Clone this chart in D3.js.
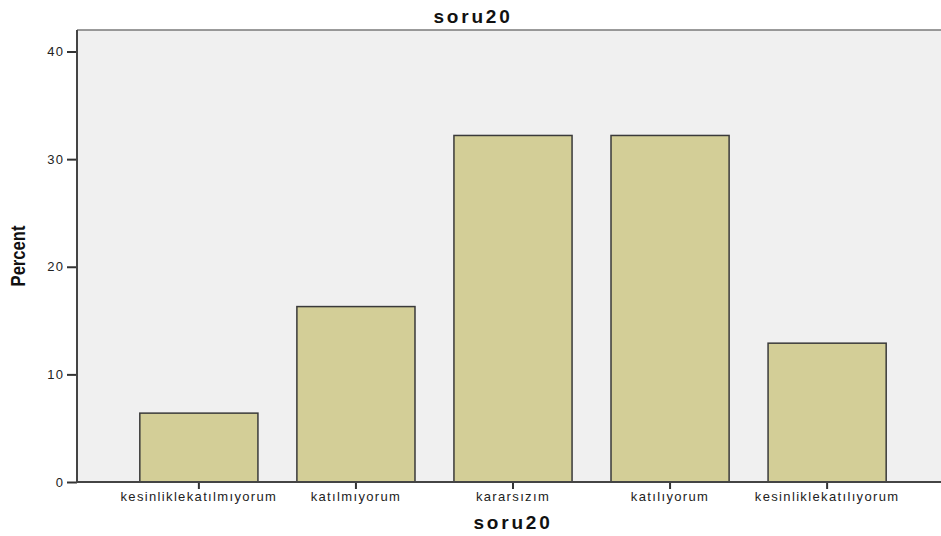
<!DOCTYPE html>
<html>
<head>
<meta charset="utf-8">
<script src="https://cdn.jsdelivr.net/npm/d3@7"></script>
<style>
  html, body { margin: 0; padding: 0; background: #ffffff; }
  svg { display: block; }
</style>
</head>
<body>
<svg id="chart" width="941" height="536"></svg>
<script>
const categories = ["kesinliklekatılmıyorum", "katılmıyorum", "kararsızım", "katılıyorum", "kesinliklekatılıyorum"];
const percents = [6.4, 16.3, 32.2, 32.2, 12.9];
const yTicks = [0, 10, 20, 30, 40];
const chartTitle = "soru20";
const xTitle = "soru20";
const yTitle = "Percent";

const svg = d3.select("#chart");
const plot = { left: 77, right: 949, top: 30, bottom: 482 };

const x = d3.scaleBand()
  .domain(categories)
  .range([plot.left, plot.right])
  .paddingInner(0.248)
  .paddingOuter(0.4);

const y = d3.scaleLinear()
  .domain([0, 42])
  .range([plot.bottom, plot.top]);

// plot background
svg.append("rect")
  .attr("x", plot.left).attr("y", plot.top)
  .attr("width", plot.right - plot.left)
  .attr("height", plot.bottom - plot.top)
  .attr("fill", "#f0f0f0");

// top border
svg.append("line")
  .attr("x1", plot.left).attr("x2", plot.right)
  .attr("y1", plot.top).attr("y2", plot.top)
  .attr("stroke", "#7a7a7a").attr("stroke-width", 1.5);

// bars
svg.append("g").selectAll("rect")
  .data(categories.map((c, i) => ({ c, v: percents[i] })))
  .join("rect")
  .attr("x", d => x(d.c))
  .attr("y", d => y(d.v))
  .attr("width", x.bandwidth())
  .attr("height", d => y(0) - y(d.v))
  .attr("fill", "#d3ce97")
  .attr("stroke", "#3a3a3a")
  .attr("stroke-width", 1.5);

// y axis
const yAxis = svg.append("g")
  .attr("transform", `translate(${plot.left},0)`)
  .call(d3.axisLeft(y).tickValues(yTicks).tickSize(10).tickPadding(3).tickSizeOuter(0));
yAxis.select(".domain").remove();
yAxis.selectAll(".tick line").attr("stroke", "#333").attr("stroke-width", 2);
yAxis.selectAll(".tick text")
  .attr("font-family", "'Liberation Sans', Arial, sans-serif")
  .attr("font-size", 13).attr("fill", "#222")
  .style("letter-spacing", "1.1px");
svg.append("line")
  .attr("x1", plot.left).attr("x2", plot.left)
  .attr("y1", plot.top).attr("y2", plot.bottom + 1)
  .attr("stroke", "#444").attr("stroke-width", 2);

// x axis
const xAxis = svg.append("g")
  .attr("transform", `translate(0,${plot.bottom})`)
  .call(d3.axisBottom(x).tickSize(7).tickPadding(3).tickSizeOuter(0));
xAxis.select(".domain").remove();
xAxis.selectAll(".tick line").attr("stroke", "#333").attr("stroke-width", 2);
xAxis.selectAll(".tick text")
  .attr("font-family", "'Liberation Sans', Arial, sans-serif")
  .attr("font-size", 13).attr("fill", "#222")
  .style("letter-spacing", "1.35px");
svg.append("line")
  .attr("x1", plot.left - 1).attr("x2", plot.right)
  .attr("y1", plot.bottom).attr("y2", plot.bottom)
  .attr("stroke", "#444").attr("stroke-width", 2);

// title
svg.append("text")
  .attr("x", 473).attr("y", 23)
  .attr("text-anchor", "middle")
  .attr("font-family", "'Liberation Sans', Arial, sans-serif")
  .attr("font-weight", "bold").attr("font-size", 19)
  .style("letter-spacing", "2.8px")
  .attr("fill", "#111")
  .text(chartTitle);

// x title
svg.append("text")
  .attr("x", (plot.left + plot.right) / 2).attr("y", 529)
  .attr("text-anchor", "middle")
  .attr("font-family", "'Liberation Sans', Arial, sans-serif")
  .attr("font-weight", "bold").attr("font-size", 19)
  .style("letter-spacing", "2.8px")
  .attr("fill", "#111")
  .text(xTitle);

// y title
svg.append("text")
  .attr("transform", `translate(25,${(plot.top + plot.bottom) / 2}) rotate(-90) scale(0.83,1)`)
  .attr("text-anchor", "middle")
  .attr("font-family", "'Liberation Sans', Arial, sans-serif")
  .attr("font-weight", "bold").attr("font-size", 20)
  .attr("fill", "#111")
  .text(yTitle);
</script>
</body>
</html>
